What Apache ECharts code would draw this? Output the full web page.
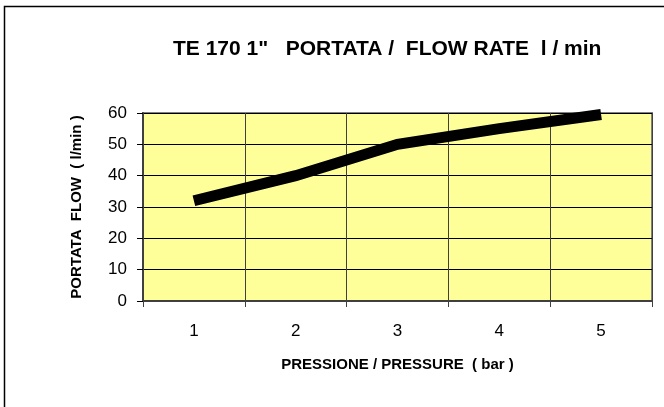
<!DOCTYPE html>
<html>
<head>
<meta charset="utf-8">
<title>TE 170 1" portata</title>
<script src="https://cdn.jsdelivr.net/npm/echarts@6/dist/echarts.min.js"></script>
<style>
  html, body { margin: 0; padding: 0; background: #fff; }
  #chart { width: 664px; height: 407px; }
</style>
</head>
<body>
<div id="chart"></div>
<script>
// dati
const pressione = ['1', '2', '3', '4', '5'] // bar
const portata = [32, 40, 50, 55, 59.5] // l/min
const yTicks = [0, 10, 20, 30, 40, 50, 60]

const font = '"Liberation Sans", Arial, sans-serif'
const myChart = echarts.init(document.getElementById('chart'))

const option = {
  backgroundColor: '#fff',
  animation: false,
  // cornice esterna (tagliata a destra e in basso)
  graphic: [{
    type: 'rect',
    shape: { x: 4.5, y: 6.5, width: 700, height: 450 },
    style: { fill: 'none', stroke: '#000', lineWidth: 1.5 },
    z: 100
  }],
  title: {
    text: 'TE 170 1"   PORTATA /  FLOW RATE  l / min',
    left: 168,
    top: 34,
    textStyle: {
      fontFamily: font,
      fontSize: 21,
      fontWeight: 'bold',
      color: '#000'
    }
  },
  grid: {
    left: 143,
    right: 12,
    top: 113,
    bottom: 106,
    show: true,
    backgroundColor: '#FFFF99',
    borderColor: '#808080',
    borderWidth: 2
  },
  xAxis: {
    type: 'category',
    data: pressione,
    boundaryGap: true,
    name: 'PRESSIONE / PRESSURE  ( bar )',
    nameLocation: 'middle',
    nameGap: 56,
    nameTextStyle: { fontFamily: font, fontSize: 15, fontWeight: 'bold', color: '#000' },
    axisLine: { lineStyle: { color: '#404040', width: 2 } },
    axisTick: { show: true, length: 6, lineStyle: { color: '#404040', width: 1 } },
    axisLabel: { fontFamily: font, fontSize: 17, color: '#000', margin: 22 },
    splitLine: { show: true, interval: 0, lineStyle: { color: '#404040', width: 1 } }
  },
  yAxis: {
    type: 'value',
    min: 0,
    max: yTicks[yTicks.length - 1],
    interval: 10,
    name: 'PORTATA  FLOW  ( l/min )',
    nameLocation: 'middle',
    nameGap: 59,
    nameTextStyle: { fontFamily: font, fontSize: 15, fontWeight: 'bold', color: '#000' },
    axisLine: { show: true, lineStyle: { color: '#404040', width: 2 } },
    axisTick: { show: true, length: 6, lineStyle: { color: '#000', width: 1 } },
    axisLabel: { fontFamily: font, fontSize: 17, color: '#000', margin: 16 },
    splitLine: { show: true, lineStyle: { color: '#000', width: 1 } }
  },
  series: [{
    type: 'line',
    data: portata,
    symbol: 'none',
    lineStyle: { color: '#000', width: 11, cap: 'butt', join: 'miter' }
  }]
}

myChart.setOption(option)
</script>
</body>
</html>
